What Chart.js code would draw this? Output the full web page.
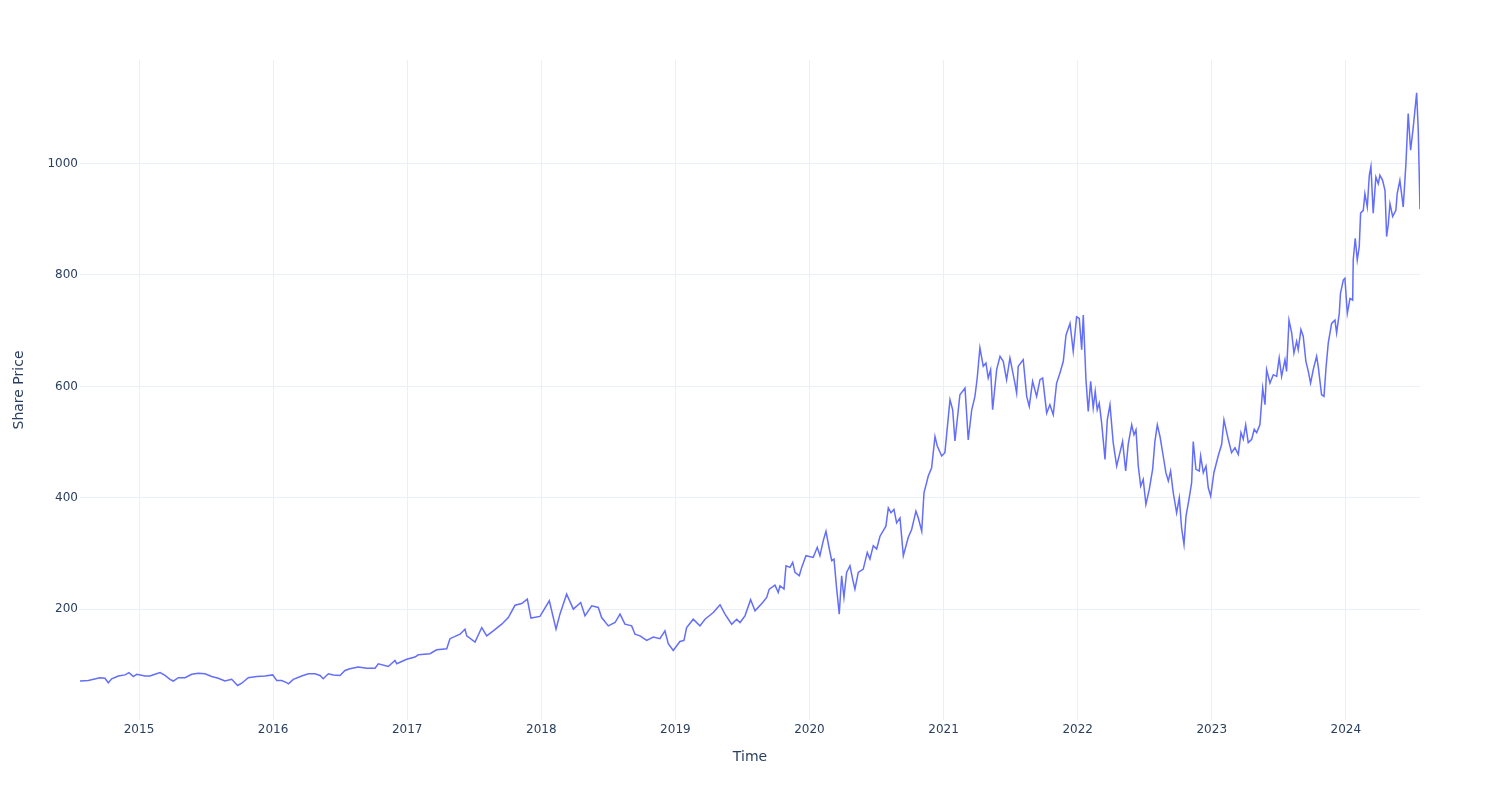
<!DOCTYPE html>
<html>
<head>
<meta charset="utf-8">
<title>Share Price</title>
<script src="https://cdn.jsdelivr.net/npm/chart.js@4.4.1/dist/chart.umd.min.js"></script>
<style>
    html, body { margin: 0; padding: 0; background: #fff; }
    #wrap { width: 1500px; height: 800px; }
</style>
</head>
<body>
<div id="wrap"><canvas id="priceChart" width="1500" height="800"></canvas></div>
<script>
// sample dates as decimal years
const dates = [
    2014.560, 2014.622, 2014.709, 2014.746, 2014.771, 2014.796, 2014.846, 2014.896, 2014.925, 2014.958,
    2014.983, 2015.045, 2015.082, 2015.119, 2015.157, 2015.194, 2015.231, 2015.256, 2015.293, 2015.343,
    2015.393, 2015.442, 2015.492, 2015.542, 2015.591, 2015.641, 2015.691, 2015.736, 2015.766, 2015.815,
    2015.877, 2015.940, 2015.997, 2016.027, 2016.064, 2016.101, 2016.114, 2016.151, 2016.213, 2016.263,
    2016.312, 2016.350, 2016.374, 2016.412, 2016.449, 2016.499, 2016.536, 2016.573, 2016.635, 2016.698,
    2016.760, 2016.785, 2016.859, 2016.909, 2016.922, 2016.996, 2017.058, 2017.083, 2017.170, 2017.220,
    2017.295, 2017.319, 2017.394, 2017.431, 2017.444, 2017.506, 2017.556, 2017.593, 2017.642, 2017.705,
    2017.754, 2017.804, 2017.854, 2017.896, 2017.923, 2017.990, 2018.060, 2018.110, 2018.139, 2018.189,
    2018.239, 2018.294, 2018.326, 2018.376, 2018.425, 2018.450, 2018.500, 2018.550, 2018.587, 2018.624,
    2018.674, 2018.699, 2018.736, 2018.786, 2018.835, 2018.885, 2018.922, 2018.947, 2018.984, 2019.034,
    2019.064, 2019.084, 2019.133, 2019.183, 2019.221, 2019.283, 2019.333, 2019.370, 2019.420, 2019.457,
    2019.482, 2019.519, 2019.561, 2019.594, 2019.651, 2019.681, 2019.700, 2019.743, 2019.767, 2019.780,
    2019.810, 2019.825, 2019.855, 2019.875, 2019.892, 2019.924, 2019.942, 2019.974, 2020.028, 2020.058,
    2020.078, 2020.103, 2020.123, 2020.148, 2020.166, 2020.183, 2020.203, 2020.222, 2020.240, 2020.257,
    2020.277, 2020.302, 2020.322, 2020.339, 2020.364, 2020.401, 2020.431, 2020.451, 2020.476, 2020.501,
    2020.526, 2020.570, 2020.588, 2020.608, 2020.630, 2020.650, 2020.675, 2020.700, 2020.737, 2020.762,
    2020.794, 2020.811, 2020.837, 2020.854, 2020.886, 2020.911, 2020.936, 2020.953, 2020.986, 2021.010,
    2021.048, 2021.068, 2021.085, 2021.122, 2021.160, 2021.184, 2021.210, 2021.234, 2021.251, 2021.271,
    2021.296, 2021.316, 2021.333, 2021.351, 2021.366, 2021.396, 2021.421, 2021.445, 2021.470, 2021.495,
    2021.532, 2021.545, 2021.557, 2021.594, 2021.620, 2021.639, 2021.664, 2021.694, 2021.719, 2021.739,
    2021.769, 2021.793, 2021.818, 2021.843, 2021.868, 2021.893, 2021.913, 2021.943, 2021.967, 2021.992,
    2022.012, 2022.030, 2022.042, 2022.062, 2022.079, 2022.097, 2022.116, 2022.131, 2022.146, 2022.161,
    2022.179, 2022.204, 2022.221, 2022.241, 2022.265, 2022.291, 2022.315, 2022.335, 2022.358, 2022.377,
    2022.403, 2022.420, 2022.435, 2022.452, 2022.470, 2022.489, 2022.509, 2022.534, 2022.559, 2022.576,
    2022.594, 2022.614, 2022.638, 2022.658, 2022.676, 2022.693, 2022.713, 2022.738, 2022.758, 2022.775,
    2022.793, 2022.808, 2022.832, 2022.850, 2022.862, 2022.882, 2022.907, 2022.917, 2022.937, 2022.957,
    2022.974, 2022.992, 2023.016, 2023.048, 2023.074, 2023.091, 2023.123, 2023.148, 2023.173, 2023.198,
    2023.218, 2023.235, 2023.253, 2023.272, 2023.298, 2023.317, 2023.335, 2023.359, 2023.380, 2023.397,
    2023.409, 2023.434, 2023.459, 2023.484, 2023.503, 2023.521, 2023.546, 2023.558, 2023.576, 2023.596,
    2023.613, 2023.633, 2023.645, 2023.665, 2023.682, 2023.702, 2023.720, 2023.737, 2023.757, 2023.782,
    2023.794, 2023.819, 2023.837, 2023.852, 2023.869, 2023.894, 2023.919, 2023.931, 2023.951, 2023.960,
    2023.981, 2023.993, 2024.011, 2024.031, 2024.051, 2024.055, 2024.070, 2024.085, 2024.100, 2024.110,
    2024.130, 2024.142, 2024.160, 2024.175, 2024.187, 2024.204, 2024.224, 2024.242, 2024.254, 2024.274,
    2024.292, 2024.304, 2024.316, 2024.329, 2024.349, 2024.373, 2024.383, 2024.403, 2024.428, 2024.448,
    2024.465, 2024.483, 2024.503, 2024.528, 2024.540, 2024.553
];

const prices = [
    71, 72, 77, 76, 68, 75, 80, 82, 86, 79,
    83, 80, 80, 83, 86, 81, 74, 71, 77, 77,
    83, 85, 84, 79, 76, 71, 74, 63, 67, 77,
    79, 80, 82, 72, 72, 68, 66, 74, 80, 84,
    84, 81, 75, 84, 82, 81, 90, 93, 96, 94,
    94, 102, 97, 108, 102, 110, 114, 118, 120, 127,
    129, 147, 155, 164, 152, 141, 167, 152, 161, 173,
    185, 207, 210, 218, 184, 187, 215, 164, 191, 227,
    200, 212, 188, 206, 203, 185, 170, 176, 191, 173,
    170, 155, 152, 144, 150, 147, 161, 138, 126, 142,
    144, 167, 182, 170, 182, 194, 208, 191, 173, 182,
    176, 188, 217, 197, 212, 221, 236, 243, 230, 242,
    236, 278, 275, 284, 266, 260, 275, 296, 293, 311,
    296, 323, 340, 308, 287, 290, 236, 191, 260, 221,
    266, 278, 254, 236, 266, 272, 302, 290, 314, 308,
    331, 349, 382, 373, 379, 355, 364, 296, 329, 343,
    376, 364, 340, 409, 439, 454, 510, 493, 475, 481,
    576, 558, 502, 585, 597, 504, 558, 582, 615, 669,
    636, 642, 615, 630, 558, 630, 654, 645, 612, 651,
    606, 588, 636, 648, 582, 564, 609, 582, 612, 615,
    552, 567, 549, 606, 624, 645, 692, 713, 663, 725,
    722, 666, 728, 612, 555, 609, 561, 591, 558, 570,
    534, 469, 540, 567, 499, 457, 481, 501, 448, 496,
    531, 513, 522, 457, 421, 433, 388, 415, 451, 501,
    531, 510, 475, 445, 430, 448, 409, 373, 400, 346,
    316, 367, 400, 427, 501, 451, 448, 475, 445, 457,
    418, 403, 445, 475, 496, 540, 505, 481, 490, 478,
    517, 505, 531, 499, 505, 523, 517, 531, 597, 567,
    630, 606, 621, 618, 651, 618, 648, 627, 719, 696,
    660, 681, 666, 702, 690, 645, 627, 606, 630, 654,
    636, 585, 582, 633, 678, 713, 719, 696, 731, 767,
    791, 794, 731, 758, 755, 827, 866, 827, 851, 911,
    916, 946, 922, 979, 995, 911, 976, 964, 979, 970,
    952, 869, 890, 928, 905, 916, 946, 970, 922, 1000,
    1090, 1024, 1066, 1127, 1060, 918
];

const yearTicks = [2015, 2016, 2017, 2018, 2019, 2020, 2021, 2022, 2023, 2024];
const yearLabels = ['2015', '2016', '2017', '2018', '2019', '2020', '2021', '2022', '2023', '2024'];
const priceTicks = [200, 400, 600, 800, 1000];
const priceRange = [1, 1186];

const inkColor = '#2a3f5f';
const gridColor = '#ebf0f8';

Chart.defaults.font.family = '"DejaVu Sans", Verdana, sans-serif';

const points = dates.map((d, i) => ({ x: d, y: prices[i] }));

new Chart(document.getElementById('priceChart'), {
    type: 'line',
    data: {
        datasets: [{
            data: points,
            borderColor: '#636efa',
            borderWidth: 1.5,
            pointRadius: 0,
            tension: 0,
            fill: false
        }]
    },
    options: {
        responsive: false,
        animation: false,
        devicePixelRatio: 1,
        layout: { padding: { top: 60, right: 80, bottom: 0, left: 0 } },
        plugins: { legend: { display: false }, tooltip: { enabled: false } },
        scales: {
            x: {
                type: 'linear',
                min: dates[0],
                max: dates[dates.length - 1],
                afterBuildTicks: s => { s.ticks = yearTicks.map(v => ({ value: v })); },
                afterFit: s => { s.height = 80; },
                ticks: {
                    autoSkip: false,
                    maxRotation: 0,
                    padding: 3,
                    color: inkColor,
                    font: { size: 12 },
                    callback: (v, i) => yearLabels[i]
                },
                grid: { color: gridColor, drawTicks: false },
                border: { display: false },
                title: { display: true, text: 'Time', color: inkColor, font: { size: 14 }, padding: { top: 0, bottom: 34 } }
            },
            y: {
                type: 'linear',
                min: priceRange[0],
                max: priceRange[1],
                afterBuildTicks: s => { s.ticks = priceTicks.map(v => ({ value: v })); },
                afterFit: s => { s.width = 80; },
                ticks: {
                    padding: 2,
                    color: inkColor,
                    font: { size: 12 },
                    callback: v => String(v)
                },
                grid: { color: gridColor, drawTicks: false },
                border: { display: false },
                title: { display: true, text: 'Share Price', color: inkColor, font: { size: 14 }, padding: { top: 11, bottom: 0 } }
            }
        }
    }
});
</script>
</body>
</html>
